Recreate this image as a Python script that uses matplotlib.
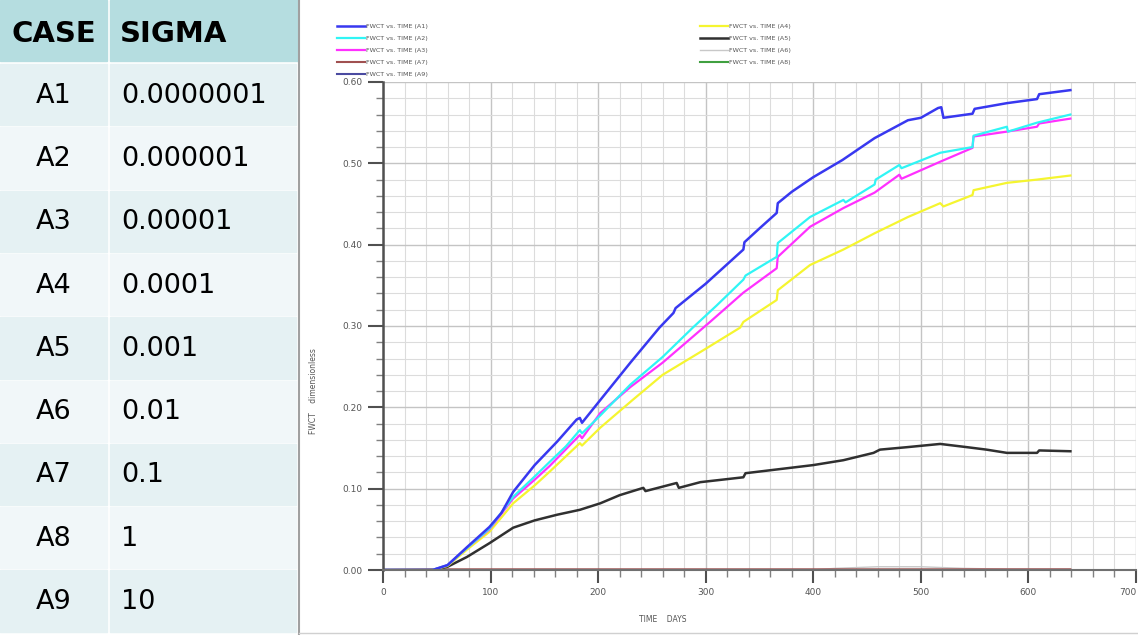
import numpy as np
import matplotlib
matplotlib.use("Agg")
import matplotlib.pyplot as plt
from matplotlib.patches import Rectangle
from matplotlib.ticker import MultipleLocator, FormatStrFormatter

# table on the left
cases = ["A1", "A2", "A3", "A4", "A5", "A6", "A7", "A8", "A9"]
sigmas = ["0.0000001", "0.000001", "0.00001", "0.0001", "0.001",
          "0.01", "0.1", "1", "10"]

# FWCT curves (days, value)
a1_t = [0, 46, 60, 78, 99, 110, 121, 141, 162, 180, 183, 185, 202, 230, 257, 270, 272,
        300, 335, 336, 350, 366, 367, 380, 400, 427, 457, 488, 500, 516, 519, 521,
        548, 550, 580, 608, 610, 639]
a1_v = [0, 0, 0.006, 0.028, 0.053, 0.070, 0.096, 0.129, 0.158, 0.185, 0.187, 0.181,
        0.209, 0.255, 0.298, 0.316, 0.322, 0.352, 0.394, 0.403, 0.420, 0.439, 0.451,
        0.465, 0.483, 0.504, 0.531, 0.553, 0.556, 0.568, 0.569, 0.556, 0.561, 0.567,
        0.574, 0.579, 0.585, 0.590]

a2_t = [0, 46, 60, 78, 99, 121, 141, 155, 170, 183, 185, 202, 230, 260, 288, 310, 335,
        337, 366, 367, 397, 428, 430, 457, 458, 480, 482, 518, 548, 549, 580, 581,
        608, 639]
a2_v = [0, 0, 0.006, 0.027, 0.051, 0.090, 0.115, 0.133, 0.152, 0.172, 0.168, 0.190,
        0.228, 0.262, 0.298, 0.325, 0.357, 0.362, 0.385, 0.402, 0.434, 0.455, 0.452,
        0.474, 0.480, 0.498, 0.494, 0.513, 0.520, 0.534, 0.545, 0.539, 0.550, 0.560]

a3_t = [0, 46, 60, 78, 99, 121, 141, 155, 183, 185, 202, 230, 260, 304, 335, 366, 367,
        397, 428, 457, 480, 482, 518, 548, 549, 580, 608, 610, 639]
a3_v = [0, 0, 0.006, 0.027, 0.050, 0.088, 0.111, 0.128, 0.166, 0.162, 0.193, 0.225,
        0.255, 0.305, 0.341, 0.371, 0.385, 0.422, 0.445, 0.464, 0.486, 0.481, 0.502,
        0.519, 0.533, 0.539, 0.545, 0.549, 0.555]

a4_t = [0, 46, 60, 78, 99, 121, 141, 155, 183, 185, 202, 232, 260, 300, 332, 335, 366,
        367, 397, 428, 457, 488, 518, 521, 548, 549, 580, 608, 639]
a4_v = [0, 0, 0.005, 0.025, 0.047, 0.082, 0.104, 0.121, 0.156, 0.153, 0.175, 0.209,
        0.240, 0.272, 0.298, 0.305, 0.332, 0.344, 0.375, 0.394, 0.414, 0.434, 0.451,
        0.447, 0.461, 0.467, 0.476, 0.480, 0.485]

a5_t = [0, 46, 60, 78, 99, 121, 141, 162, 183, 202, 220, 242, 244, 273, 275, 295, 335,
        337, 400, 428, 456, 462, 487, 518, 543, 561, 580, 608, 610, 639]
a5_v = [0, 0, 0.004, 0.016, 0.033, 0.052, 0.061, 0.068, 0.074, 0.082, 0.092, 0.101,
        0.097, 0.107, 0.101, 0.108, 0.114, 0.119, 0.129, 0.135, 0.144, 0.148, 0.151,
        0.155, 0.151, 0.148, 0.144, 0.144, 0.147, 0.146]

a6_t = [0, 400, 420, 460, 500, 540, 580, 639]
a6_v = [0, 0, 0.002, 0.004, 0.004, 0.002, 0.001, 0.001]

a7_t = [0, 60, 639]
a7_v = [0, 0.0008, 0.0008]
a8_t = [0, 639]
a8_v = [0, 0]
a9_t = [0, 639]
a9_v = [0, 0]

x_ticks = [0, 100, 200, 300, 400, 500, 600, 700]

W, H = 1138, 635
fig = plt.figure(figsize=(W / 100, H / 100), dpi=100)

# ---- table ----
tax = fig.add_axes([0, 0, 298 / W, 1])
tax.set_xlim(0, 298)
tax.set_ylim(635, 0)
tax.axis("off")
tax.add_patch(Rectangle((0, 0), 298, 635, color="white"))
row_h = 63.3
tax.add_patch(Rectangle((0, 0), 107, 61, color="#b5dde0"))
tax.add_patch(Rectangle((110, 0), 188, 61, color="#b5dde0"))
tax.text(54, 34, "CASE", ha="center", va="center", fontsize=21, fontweight="bold")
tax.text(120, 34, "SIGMA", ha="left", va="center", fontsize=21, fontweight="bold")
for i, (c, s) in enumerate(zip(cases, sigmas)):
    y0 = 63 + i * row_h
    col = "#e5f1f3" if i % 2 == 0 else "#f1f7f9"
    tax.add_patch(Rectangle((0, y0 + 1), 107, row_h - 2, color=col))
    tax.add_patch(Rectangle((110, y0 + 1), 186, row_h - 2, color=col))
    tax.text(54, y0 + row_h / 2 + 1, c, ha="center", va="center", fontsize=19.5)
    tax.text(121, y0 + row_h / 2 + 1, s, ha="left", va="center", fontsize=19.5)

# panel border
fig.add_artist(plt.Line2D([299 / W, 299 / W], [0, 1], color="#a0a0a0", lw=1.5))
fig.add_artist(plt.Line2D([299 / W, 1], [2 / H, 2 / H], color="#d0d0d0", lw=1))

# ---- chart ----
ax = fig.add_axes([383 / W, 65 / H, (1136 - 383) / W, (570 - 82) / H])
series = [
    (a9_t, a9_v, "#4a4aa0", 1.5, "A9"),
    (a8_t, a8_v, "#40a040", 1.5, "A8"),
    (a6_t, a6_v, "#c8c8c8", 1.0, "A6"),
    (a7_t, a7_v, "#a05050", 1.5, "A7"),
    (a5_t, a5_v, "#303030", 1.8, "A5"),
    (a4_t, a4_v, "#f5f530", 1.6, "A4"),
    (a3_t, a3_v, "#ff30ff", 1.6, "A3"),
    (a2_t, a2_v, "#30f5f5", 1.6, "A2"),
    (a1_t, a1_v, "#3838f0", 1.8, "A1"),
]
lines = {}
for t, v, c, lw, name in series:
    (ln,) = ax.plot(t, v, color=c, lw=lw, label="FWCT vs. TIME (%s)" % name)
    lines[name] = ln

ax.set_xlim(0, 700)
ax.set_ylim(0, 0.6)
ax.set_xticks(x_ticks)
ax.set_xticklabels([str(x) for x in x_ticks])
ax.get_xticklabels()[-1].set_horizontalalignment("right")
ax.xaxis.set_minor_locator(MultipleLocator(20))
ax.yaxis.set_major_locator(MultipleLocator(0.1))
ax.yaxis.set_minor_locator(MultipleLocator(0.02))
ax.yaxis.set_major_formatter(FormatStrFormatter("%.2f"))
ax.grid(which="major", color="#c4c4c4", lw=1.0)
ax.grid(which="minor", color="#dcdcdc", lw=0.8)
ax.set_axisbelow(True)
for s in ["top", "right"]:
    ax.spines[s].set_visible(False)
ax.spines["left"].set_color("#505050")
ax.spines["left"].set_linewidth(1.8)
ax.spines["bottom"].set_color("#707070")
ax.spines["bottom"].set_linewidth(1.5)
ax.tick_params(which="major", length=11, width=1.5, color="#505050",
               labelsize=6.5, labelcolor="#555555")
ax.tick_params(which="minor", length=5, width=1, color="#808080")
ax.tick_params(axis="x", which="major", length=9, pad=4)

fig.text(313 / W, 1 - 391 / H, "FWCT    dimensionless", rotation=90, ha="center",
         va="center", fontsize=5.5, color="#555555")
fig.text(663 / W, 1 - 620 / H, "TIME    DAYS", ha="center", va="center",
         fontsize=5.5, color="#555555")

leg_kw = dict(frameon=False, fontsize=4.6, handlelength=4.4, labelspacing=1.0,
              handletextpad=0.2, borderpad=0, borderaxespad=0,
              bbox_transform=fig.transFigure, loc="upper left", labelcolor="#555555")
left_names = ["A1", "A2", "A3", "A7", "A9"]
right_names = ["A4", "A5", "A6", "A8"]
leg1 = ax.legend([lines[n] for n in left_names],
                 ["FWCT vs. TIME (%s)" % n for n in left_names],
                 bbox_to_anchor=(337 / W, 1 - 24 / H), **leg_kw)
ax.add_artist(leg1)
ax.legend([lines[n] for n in right_names],
          ["FWCT vs. TIME (%s)" % n for n in right_names],
          bbox_to_anchor=(700 / W, 1 - 24 / H), **leg_kw)

fig.savefig("out.png", dpi=100)
